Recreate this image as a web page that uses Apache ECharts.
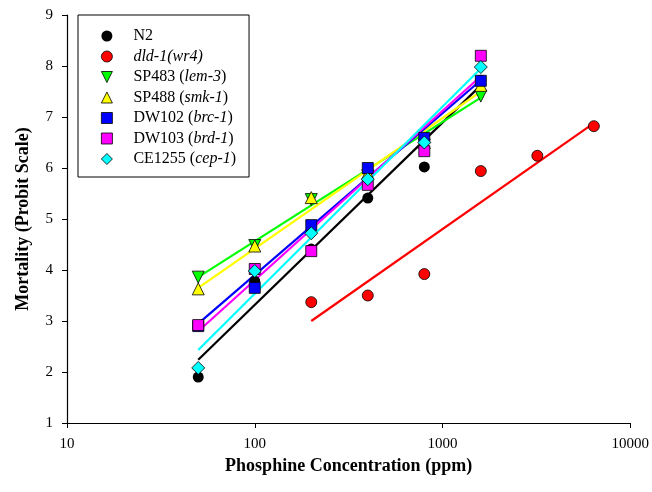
<!DOCTYPE html>
<html>
<head>
<meta charset="utf-8">
<script src="https://cdn.jsdelivr.net/npm/echarts@6/dist/echarts.min.js"></script>
<style>html,body{margin:0;padding:0;background:#fff}#c{width:652px;height:492px}</style>
</head>
<body>
<div id="c"></div>
<script>
// ---- data ----
var concStd = [50, 100, 200, 400, 800, 1600];
var concDld = [200, 400, 800, 1600, 3200, 6400];
var n2 = [1.90, 3.78, 4.41, 5.41, 6.02, 7.72];
var dld1 = [3.37, 3.50, 3.92, 5.94, 6.24, 6.82];
var sp483 = [3.86, 4.48, 5.38, 5.85, 6.45, 7.41];
var sp488 = [3.63, 4.47, 5.42, 5.90, 6.50, 7.62];
var dw102 = [2.90, 3.65, 4.88, 6.00, 6.59, 7.71];
var dw103 = [2.92, 4.02, 4.37, 5.67, 6.33, 8.20];
var ce1255 = [2.08, 3.98, 4.72, 5.78, 6.50, 7.98];
// fitted regression line end values (start, end)
var fitRangeStd = [50, 1600];
var fitRangeDld = [200, 6400];
var fitN2 = [2.24, 7.62];
var fitDld1 = [3.00, 6.88];
var fitSp483 = [3.86, 7.38];
var fitSp488 = [3.65, 7.50];
var fitDw102 = [2.95, 7.72];
var fitDw103 = [2.80, 7.80];
var fitCe1255 = [2.43, 7.95];
var yTicks = [1, 9, 1];
var xTicks = [10, 10000];

var downTri = 'path://M0,0L10,0L5,10Z';
var strains = [
  {name:'N2', label:'{s|}{n|N2}', x:concStd, y:n2, fx:fitRangeStd, fy:fitN2, color:'#000000', symbol:'circle', size:11},
  {name:'dld-1(wr4)', label:'{s|}{i|dld-1(wr4)}', x:concDld, y:dld1, fx:fitRangeDld, fy:fitDld1, color:'#ff0000', symbol:'circle', size:11},
  {name:'SP483 (lem-3)', label:'{s|}{n|SP483 (}{i|lem-3}{n|)}', x:concStd, y:sp483, fx:fitRangeStd, fy:fitSp483, color:'#00ff00', symbol:downTri, size:12},
  {name:'SP488 (smk-1)', label:'{s|}{n|SP488 (}{i|smk-1}{n|)}', x:concStd, y:sp488, fx:fitRangeStd, fy:fitSp488, color:'#ffff00', symbol:'triangle', size:12},
  {name:'DW102 (brc-1)', label:'{s|}{n|DW102 (}{i|brc-1}{n|)}', x:concStd, y:dw102, fx:fitRangeStd, fy:fitDw102, color:'#0000ff', symbol:'rect', size:11},
  {name:'DW103 (brd-1)', label:'{s|}{n|DW103 (}{i|brd-1}{n|)}', x:concStd, y:dw103, fx:fitRangeStd, fy:fitDw103, color:'#ff00ff', symbol:'rect', size:11},
  {name:'CE1255 (cep-1)', label:'{s|}{n|CE1255 (}{i|cep-1}{n|)}', x:concStd, y:ce1255, fx:fitRangeStd, fy:fitCe1255, color:'#00ffff', symbol:'diamond', size:13}
];

var series = [];
strains.forEach(function(s){
  series.push({
    name: s.name + ' fit', type:'line', z:2, silent:true, symbol:'none',
    lineStyle:{color:s.color, width:2.2},
    data: s.fx.map(function(v,i){return [v, s.fy[i]];})
  });
});
strains.forEach(function(s){
  series.push({
    name: s.name, type:'scatter', z:3, symbol:s.symbol, symbolSize:s.size,
    itemStyle:{color:s.color, borderColor:'#000', borderWidth:s.color==='#000000'?0:0.8, opacity:1},
    data: s.x.map(function(v,i){return [v, s.y[i]];})
  });
});
var labelMap = {};
strains.forEach(function(s){ labelMap[s.name] = s.label; });

var serif = '"Liberation Serif","Times New Roman",serif';
var chart = echarts.init(document.getElementById('c'), null, {renderer:'canvas'});
chart.setOption({
  animation:false,
  backgroundColor:'#fff',
  grid:{left:67, right:18, top:15, bottom:69, containLabel:false},
  legend:{
    orient:'vertical', left:78, top:15,
    padding:[13,13,10,23],
    borderColor:'#000', borderWidth:1,
    itemWidth:11, itemHeight:11, itemGap:4.5,
    selectedMode:false,
    data: strains.map(function(s){return {name:s.name, icon:s.symbol, itemStyle:{borderColor:'#000', borderWidth:s.color==='#000000'?0:0.8}};}),
    formatter:function(n){return labelMap[n];},
    textStyle:{
      fontFamily:serif, fontSize:16, color:'#000', lineHeight:16,
      rich:{
        s:{width:16, lineHeight:16},
        n:{fontFamily:serif, fontSize:16, color:'#000', lineHeight:16},
        i:{fontFamily:serif, fontSize:16, color:'#000', fontStyle:'italic', lineHeight:16}
      }
    }
  },
  xAxis:{
    type:'log', logBase:10, min:xTicks[0], max:xTicks[1],
    name:'Phosphine Concentration (ppm)', nameLocation:'middle', nameGap:33,
    nameTextStyle:{fontFamily:serif, fontSize:18, fontWeight:'bold', color:'#000'},
    axisLine:{show:true, onZero:false, lineStyle:{color:'#000', width:1.2}},
    axisTick:{show:true, inside:false, length:5, lineStyle:{color:'#000'}},
    minorTick:{show:false},
    splitLine:{show:false},
    axisLabel:{fontFamily:serif, fontSize:15, color:'#000', margin:14, formatter:function(v){return String(Math.round(v));}}
  },
  yAxis:{
    type:'value', min:yTicks[0], max:yTicks[1], interval:yTicks[2],
    name:'Mortality (Probit Scale)', nameLocation:'middle', nameGap:35,
    nameTextStyle:{fontFamily:serif, fontSize:18, fontWeight:'bold', color:'#000'},
    axisLine:{show:true, onZero:false, lineStyle:{color:'#000', width:1.2}},
    axisTick:{show:true, inside:false, length:5, lineStyle:{color:'#000'}},
    splitLine:{show:false},
    axisLabel:{fontFamily:serif, fontSize:15, color:'#000', margin:14}
  },
  series: series
});
</script>
</body>
</html>
